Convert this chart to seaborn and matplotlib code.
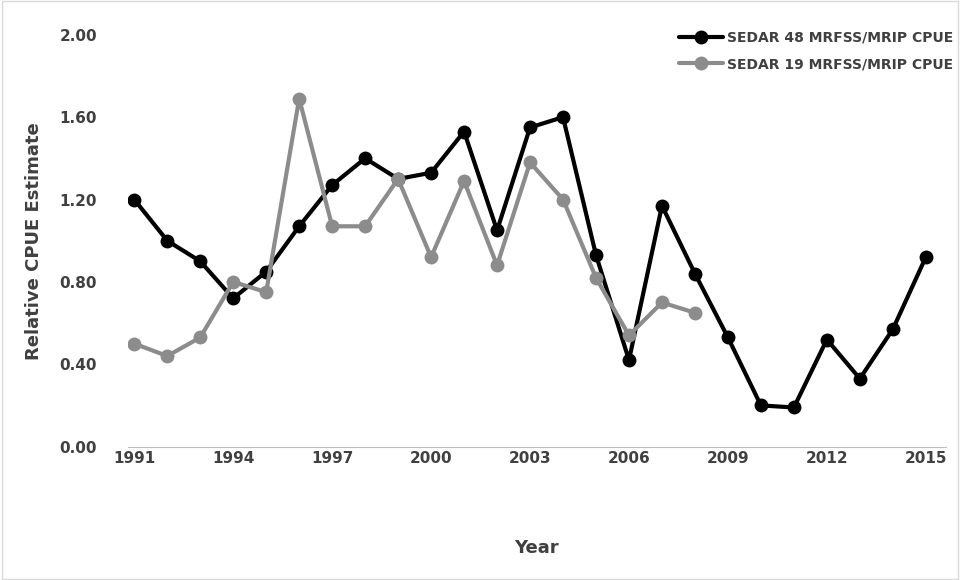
import numpy as np
import pandas as pd
import matplotlib.pyplot as plt
import seaborn as sns

years_48 = list(range(1991, 2016))
cpue_48 = [1.20, 1.00, 0.90, 0.72, 0.85, 1.07, 1.27, 1.40, 1.30, 1.33, 1.53, 1.05, 1.55,
           1.60, 0.93, 0.42, 1.17, 0.84, 0.53, 0.20, 0.19, 0.52, 0.33, 0.57, 0.92]
years_19 = list(range(1991, 2009))
cpue_19 = [0.50, 0.44, 0.53, 0.80, 0.75, 1.69, 1.07, 1.07, 1.30, 0.92, 1.29, 0.88, 1.38,
           1.20, 0.82, 0.54, 0.70, 0.65]
xticks = list(range(1991, 2016, 3))
yticks = [0.0, 0.4, 0.8, 1.2, 1.6, 2.0]

df = pd.concat([
    pd.DataFrame({'Year': years_48, 'CPUE': cpue_48, 'Series': 'SEDAR 48 MRFSS/MRIP CPUE'}),
    pd.DataFrame({'Year': years_19, 'CPUE': cpue_19, 'Series': 'SEDAR 19 MRFSS/MRIP CPUE'}),
])

sns.set_style('white')
plt.rcParams['font.family'] = ['DejaVu Sans']
fig = plt.figure(figsize=(9.6, 5.8), dpi=100)
ax = fig.add_axes([0.133, 0.23, 0.852, 0.71])

sns.lineplot(data=df, x='Year', y='CPUE', hue='Series',
             palette={'SEDAR 48 MRFSS/MRIP CPUE': 'black', 'SEDAR 19 MRFSS/MRIP CPUE': '#8c8c8c'},
             marker='o', markersize=10, markeredgewidth=0, linewidth=3, ax=ax)

ax.set_xlim(1990.8, 2015.6)
ax.set_ylim(0, 2.0)
ax.set_xticks(xticks)
ax.set_yticks(yticks)
ax.set_yticklabels([f'{v:.2f}' for v in yticks])
ax.tick_params(labelsize=11, colors='#404040', length=0)
ax.tick_params(axis='y', pad=22)
for lab in ax.get_xticklabels() + ax.get_yticklabels():
    lab.set_fontweight('bold')
for s in ['top', 'right', 'left']:
    ax.spines[s].set_visible(False)
ax.spines['bottom'].set_color('#bfbfbf')
ax.set_xlabel('Year', fontsize=13, fontweight='bold', color='#404040', labelpad=52)
ax.set_ylabel('Relative CPUE Estimate', fontsize=13, fontweight='bold', color='#404040', labelpad=12)
leg = ax.legend(loc='upper right', frameon=False, fontsize=10, bbox_to_anchor=(1.025, 1.04),
                handlelength=3.2, handletextpad=0.3, labelspacing=0.9)
for t in leg.get_texts():
    t.set_fontweight('bold')
    t.set_color('#404040')
fig.patches.append(plt.Rectangle((0.002, 0.002), 0.996, 0.996, transform=fig.transFigure,
                                 fill=False, edgecolor='#d9d9d9', linewidth=1))
fig.savefig('out.png')
